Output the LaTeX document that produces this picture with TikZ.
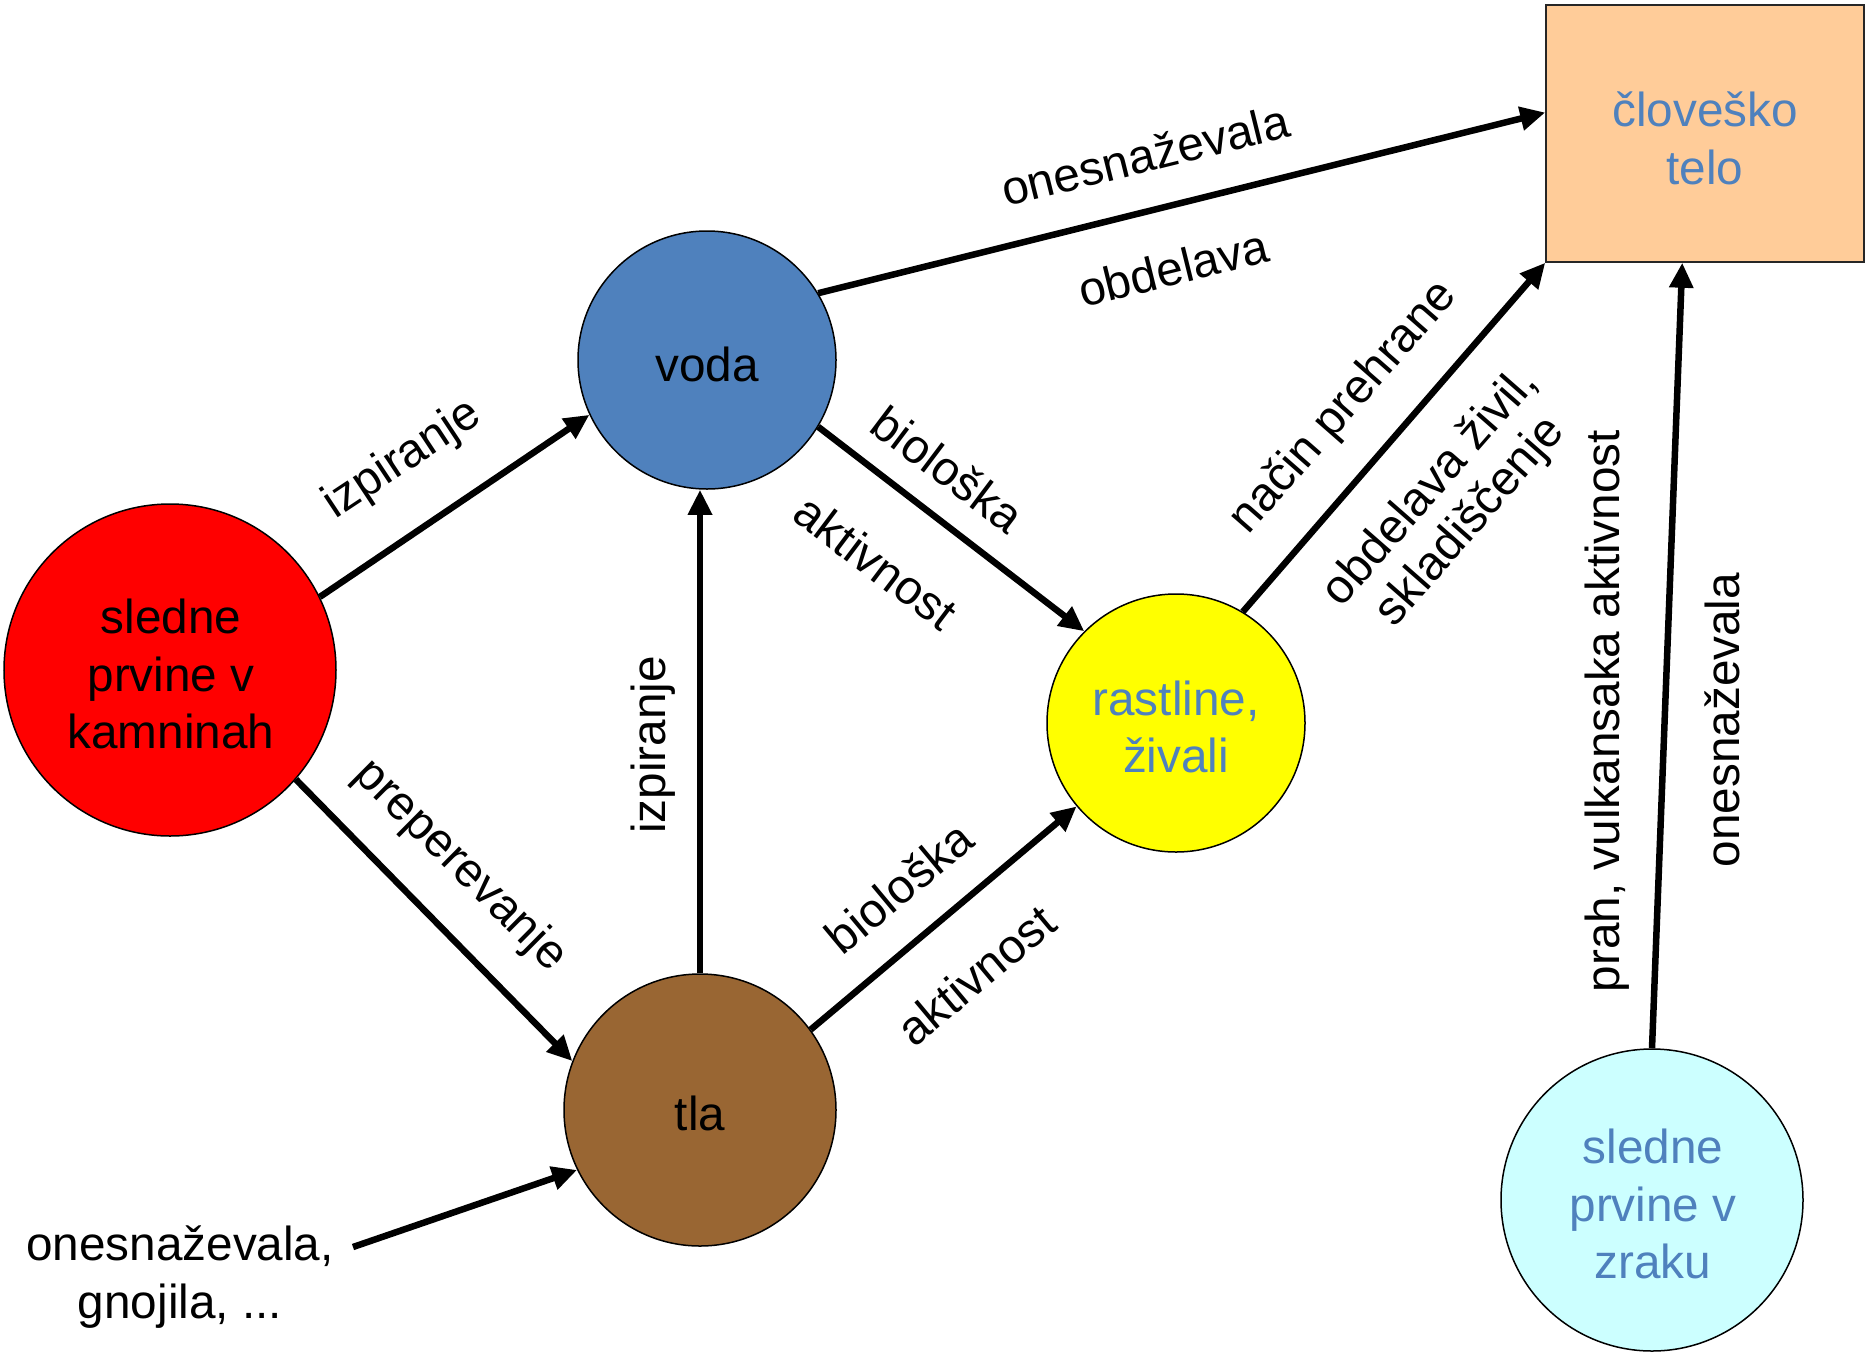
\documentclass[tikz,border=0pt]{standalone}
\usepackage{fontspec}
\setmainfont{Liberation Sans}
\usetikzlibrary{arrows.meta,calc}
\definecolor{cred}{HTML}{FF0000}
\definecolor{cblue}{HTML}{4F81BD}
\definecolor{cbrown}{HTML}{996633}
\definecolor{cyel}{HTML}{FFFF00}
\definecolor{ccyan}{HTML}{CCFFFF}
\definecolor{cpeach}{HTML}{FFCC99}
\definecolor{ctxt}{HTML}{4F81BD}
\newcommand{\tsp}{\hspace{0.278em}}
\begin{document}
\begin{tikzpicture}[x=1pt,y=-1pt,
  every node/.style={font=\fontsize{47.7}{57.5}\selectfont},
  circ/.style={circle,draw,line width=1.5pt,inner sep=0pt},
  ntxt/.style={inner sep=0pt,align=center},
  arr/.style={line width=6.5pt,-{Triangle[length=25pt,width=23pt]}},
  lbl/.style={inner sep=0pt,align=center}]
\useasboundingbox (0,0) rectangle (1874,1355);
\node[circ,fill=cred,minimum size=332pt] (red) at (170,670) {};
\node[circ,fill=cblue,minimum size=258pt] (voda) at (707,360) {};
\node[circ,fill=cbrown,minimum size=272pt] (tla) at (700,1110) {};
\node[circ,fill=cyel,minimum size=258pt] (rast) at (1176,723) {};
\node[circ,fill=ccyan,minimum size=302pt] (zrak) at (1652,1200) {};
\node[draw=black!85,line width=1.5pt,fill=cpeach,minimum width=318pt,minimum height=257pt,inner sep=0pt] (clovek) at (1705,133.5) {};

\node[ntxt] (redt) at ($(red.center)+(1,4)$) {sledne\tsp\\prvine v\tsp\\kamninah};
\node[ntxt] (vodat) at ($(voda.center)+(0,4)$) {voda};
\node[ntxt] (tlat) at ($(tla.center)+(0,3)$) {tla};
\node[ntxt,text=ctxt] (rastt) at ($(rast.center)+(0,4)$) {rastline,\tsp\\živali};
\node[ntxt,text=ctxt] (zrakt) at ($(zrak.center)+(1,4)$) {sledne\tsp\\prvine v\tsp\\zraku};
\node[ntxt,text=ctxt] (clovekt) at ($(clovek.center)+(0,5)$) {človeško\tsp\\telo};

\node[lbl] (src) at (180,1277) {onesnaževala,\tsp\\gnojila, ...};
\coordinate (srcend) at (353,1247);

\draw[arr] (red.26) -- (voda.205);
\draw[arr] (red.-41) -- (tla.159);
\draw[arr] (tla.north) -- (tla.north |- voda.south);
\draw[arr] (voda.-31) -- (rast.135);
\draw[arr] (tla.36) -- (rast.220);
\draw[arr] (voda.31) -- ($(clovek.west)+(0,-21)$);
\draw[arr] (rast.59) -- (clovek.south west);
\draw[arr] (zrak.north) -- ($(clovek.south west)+(137,0)$);
\draw[arr] (srcend) -- (tla.206);

\node[lbl,rotate=33.5] (l1) at (403,460) {izpiranje};
\node[lbl,rotate=-44.8] (l2) at (460,866) {preperevanje};
\node[lbl,rotate=90] (l3) at (653,745) {izpiranje};
\node[lbl,rotate=-37] (l4) at (948,469) {biološka};
\node[lbl,rotate=-37] (l5) at (876,562) {aktivnost};
\node[lbl,rotate=39.8] (l6) at (899,887) {biološka};
\node[lbl,rotate=39.8] (l7) at (976,975) {aktivnost};
\node[lbl,rotate=13.9] (l8) at (1145,155) {onesnaževala};
\node[lbl,rotate=13.9] (l9) at (1173,268) {obdelava};
\node[lbl,rotate=48.8] (l10) at (1344,408) {način prehrane};
\node[lbl,rotate=48.8,font=\fontsize{47.7}{53}\selectfont] (l11) at (1451,505) {obdelava živil,\\skladiščenje};
\node[lbl,rotate=90] (l12) at (1607,711) {prah, vulkansaka aktivnost};
\node[lbl,rotate=90] (l13) at (1722,720) {onesnaževala};
\end{tikzpicture}
\end{document}
